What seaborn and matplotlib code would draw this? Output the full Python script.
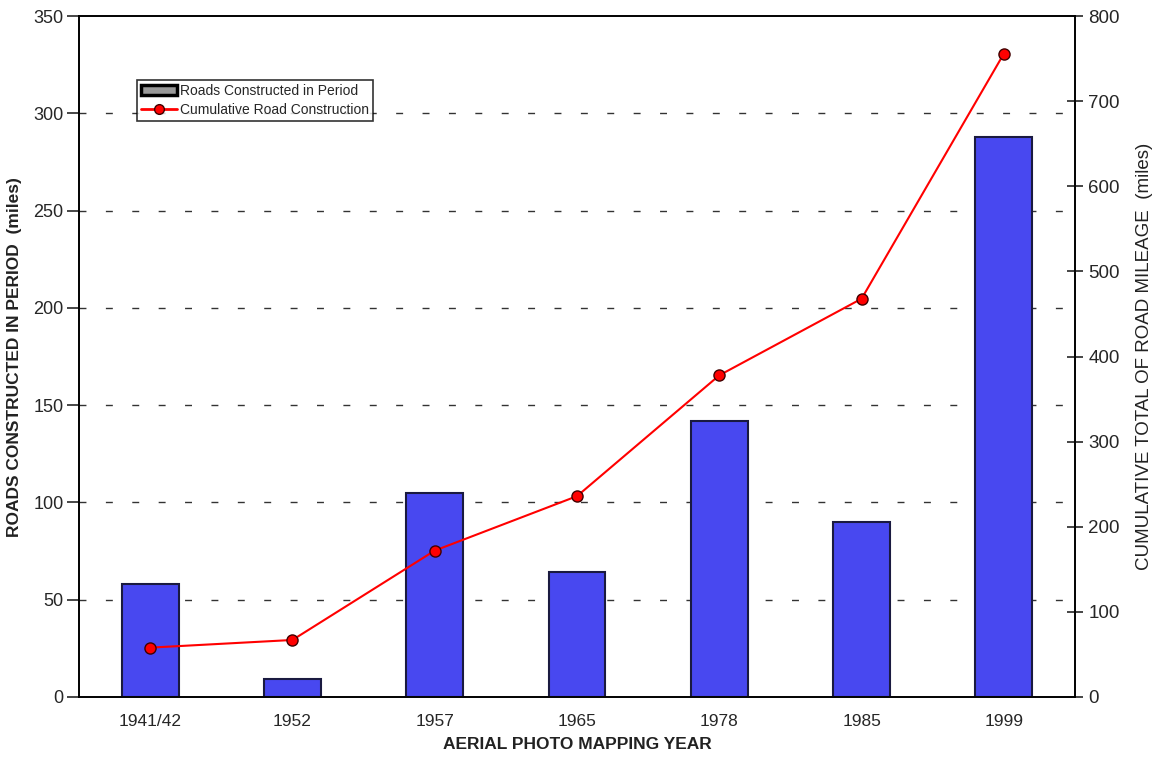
import numpy as np
import pandas as pd
import matplotlib
matplotlib.use('Agg')
import matplotlib.pyplot as plt
import seaborn as sns
from matplotlib.patches import Patch
from matplotlib.lines import Line2D

# Data
years = ['1941/42', '1952', '1957', '1965', '1978', '1985', '1999']
period_miles = [58, 9, 105, 64, 142, 90, 288]
cumulative_miles = [58, 67, 172, 236, 378, 468, 756]

df = pd.DataFrame({'Year': years, 'Period': period_miles, 'Cumulative': cumulative_miles})
df['pos'] = np.arange(len(years))

sns.set_style('white')
plt.rcParams['font.family'] = ['Liberation Sans', 'DejaVu Sans']

fig = plt.figure(figsize=(11.67, 7.65), dpi=100)
ax = fig.add_axes([0.0677, 0.0889, 0.8535, 0.890])
xlim = (-0.5, len(years) - 0.5)

# Bars
sns.barplot(x='Year', y='Period', data=df, color='#4848F0', saturation=1,
            width=0.40, edgecolor='#1a1a40', linewidth=1.5, ax=ax, zorder=3)
ax.set_ylim(0, 350)
ax.set_xlim(*xlim)
ax.set_yticks(range(0, 351, 50))
for y in range(50, 301, 50):
    ax.axhline(y, color='#333333', linestyle=(0, (5, 14)), linewidth=1, zorder=1)

# Cumulative line on the right axis
ax2 = ax.twinx()
sns.lineplot(x='pos', y='Cumulative', data=df, color='red', linewidth=1.5,
             marker='o', markersize=8, markerfacecolor='red',
             markeredgecolor='#400000', markeredgewidth=1, ax=ax2, zorder=4)
ax2.set_ylim(0, 800)
ax2.set_yticks(range(0, 801, 100))
ax2.set_xlim(*xlim)

# Spines and ticks
for a in (ax, ax2):
    for s in a.spines.values():
        s.set_color('black')
        s.set_linewidth(1.2)
        s.set_visible(True)

ax.set_xticks(np.arange(len(years)))
ax.set_xticklabels(years)
ax.set_xticks(np.arange(len(years) - 1) + 0.5, minor=True)
ax.tick_params(axis='x', which='major', length=0, labelsize=12.5, pad=12)
ax.tick_params(axis='x', which='minor', length=10, direction='inout', width=1.2)
ax.tick_params(axis='y', which='major', length=9, direction='out', width=1.2,
               labelsize=13, pad=2, left=True)
ax2.tick_params(axis='y', which='major', length=12, direction='inout', width=1.2,
                labelsize=13.5, right=True)

ax.set_xlabel('AERIAL PHOTO MAPPING YEAR', fontsize=12.5, fontweight='bold',
              color='#222222', labelpad=6)
ax.set_ylabel('ROADS CONSTRUCTED IN PERIOD  (miles)', fontsize=12.5,
              fontweight='bold', color='#222222', labelpad=8)
ax2.set_ylabel('CUMULATIVE TOTAL OF ROAD MILEAGE  (miles)', fontsize=13.5,
               color='#222222', labelpad=12)

# Legend
handles = [Patch(facecolor='#999999', edgecolor='black', linewidth=2.5,
                 label='Roads Constructed in Period'),
           Line2D([0], [0], color='red', linewidth=2, marker='o', markersize=7,
                  markerfacecolor='red', markeredgecolor='#400000',
                  label='Cumulative Road Construction')]
leg = ax2.legend(handles=handles, loc='upper left', bbox_to_anchor=(0.051, 0.917),
                 fontsize=10, frameon=True, fancybox=False, handlelength=2.6,
                 handletextpad=0.2, borderpad=0.3, labelspacing=0.4)
leg.get_frame().set_edgecolor('black')
leg.get_frame().set_linewidth(1.2)

fig.savefig('out.png', dpi=100)
